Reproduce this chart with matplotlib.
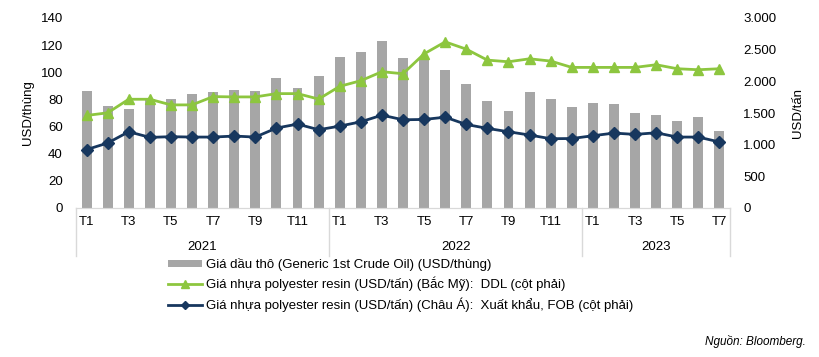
import matplotlib
matplotlib.use("Agg")
import matplotlib.pyplot as plt
from matplotlib.ticker import FuncFormatter, MultipleLocator
from matplotlib.lines import Line2D
from matplotlib.patches import Patch

plt.rcParams['font.family'] = ['Liberation Sans', 'DejaVu Sans']

years = ["2021", "2022", "2023"]
months_per_year = [12, 12, 7]
month_labels = ["T1", "", "T3", "", "T5", "", "T7", "", "T9", "", "T11", "",
                "T1", "", "T3", "", "T5", "", "T7", "", "T9", "", "T11", "",
                "T1", "", "T3", "", "T5", "", "T7"]

crude_oil = [86, 75.5, 73, 80, 80.6, 84.3, 85.3, 87, 86.3, 95.8, 88.7, 97.5,
             111, 115, 123, 110.5, 108.7, 101.7, 91.6, 79, 71.6, 85.3, 80, 74.2,
             77.2, 76.3, 69.9, 68.2, 64.3, 66.7, 57]
resin_na = [1461, 1503, 1717, 1717, 1628, 1628, 1759, 1754, 1754, 1806, 1806, 1720,
            1921, 2010, 2152, 2120, 2434, 2623, 2508, 2335, 2309, 2356, 2320, 2220,
            2220, 2220, 2220, 2262, 2199, 2183, 2199]
resin_asia = [922, 1026, 1204, 1115, 1126, 1120, 1120, 1136, 1120, 1262, 1325, 1236,
              1293, 1361, 1466, 1393, 1398, 1434, 1319, 1257, 1204, 1152, 1094, 1097,
              1141, 1183, 1162, 1188, 1120, 1120, 1042]

label_oil = "Giá dầu thô (Generic 1st Crude Oil) (USD/thùng)"
label_na = "Giá nhựa polyester resin (USD/tấn) (Bắc Mỹ):  DDL (cột phải)"
label_asia = "Giá nhựa polyester resin (USD/tấn) (Châu Á):  Xuất khẩu, FOB (cột phải)"
source = "Nguồn: Bloomberg."

bar_color = "#a6a6a6"
green = "#8dc63f"
navy = "#17375e"
axis_grey = "#d9d9d9"
fs = 9.5

fig = plt.figure(figsize=(8.19, 3.57), dpi=100)
ax = fig.add_axes([76/819, 1-208/357, (730-76)/819, (208-18)/357])
ax2 = ax.twinx()

x = list(range(len(crude_oil)))
ax.bar(x, crude_oil, width=0.47, color=bar_color, zorder=1)
ax2.plot(x, resin_na, color=green, lw=2, marker="^", markersize=7.5, zorder=3)
ax2.plot(x, resin_asia, color=navy, lw=2, marker="D", markersize=6, zorder=3)

ax.set_xlim(-0.5, len(x) - 0.5)
ax.set_ylim(0, 140)
ax2.set_ylim(0, 3000)
ax.yaxis.set_major_locator(MultipleLocator(20))
ax2.yaxis.set_major_locator(MultipleLocator(500))
ax2.yaxis.set_major_formatter(FuncFormatter(lambda v, p: f"{int(v):,}".replace(",", ".")))

for a in (ax, ax2):
    for s in ("top", "left", "right"):
        a.spines[s].set_visible(False)
    a.spines["bottom"].set_color(axis_grey)
ax.tick_params(axis="y", length=0, labelsize=fs, pad=9.5)
ax2.tick_params(axis="y", length=0, labelsize=fs, pad=9.5)
ax.set_xticks(x)
ax.set_xticklabels(month_labels, fontsize=fs)
ax.tick_params(axis="x", length=0, pad=6)

ax.set_ylabel("USD/thùng", fontsize=fs, labelpad=5)
ax2.set_ylabel("USD/tấn", fontsize=fs, labelpad=11)

# year labels and separators
start = 0
bounds = [-0.5]
for yr, n in zip(years, months_per_year):
    center = start + (n - 1) / 2
    ax.text(center, -0.205, yr, transform=ax.get_xaxis_transform(), ha="center", va="center", fontsize=fs)
    start += n
    bounds.append(start - 0.5)
for b in bounds:
    ax.plot([b, b], [0, -0.25], transform=ax.get_xaxis_transform(), color=axis_grey, lw=1, clip_on=False)

handles = [Patch(facecolor=bar_color, edgecolor="none"),
           Line2D([], [], color=green, lw=2, marker="^", markersize=6),
           Line2D([], [], color=navy, lw=2, marker="D", markersize=4.5)]
fig.legend(handles, [label_oil, label_na, label_asia], loc="upper left",
           bbox_to_anchor=(168/819, 1-258/357), frameon=False, fontsize=fs,
           handlelength=2.6, handleheight=0.5, labelspacing=0.45, handletextpad=0.3,
           borderpad=0, borderaxespad=0)

fig.text(806/819, 1-341/357, source, ha="right", va="center", fontsize=8.5, style="italic")

fig.savefig("out.png", dpi=100)
